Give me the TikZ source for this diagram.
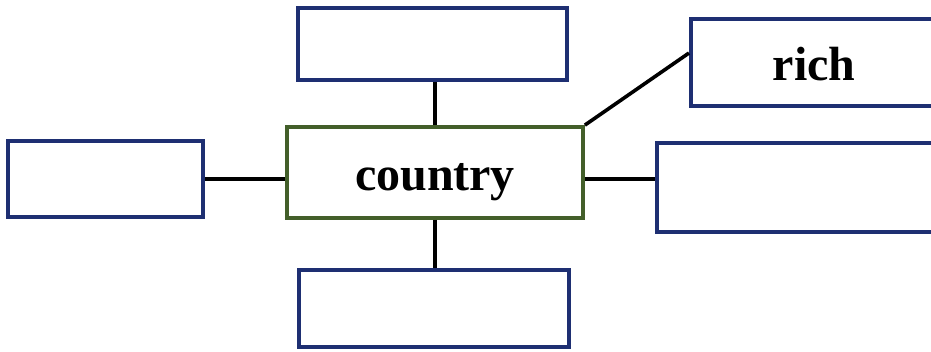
\documentclass[tikz,border=0pt]{standalone}
\usepackage{fontspec}
\setmainfont{Liberation Serif}
\definecolor{boxblue}{HTML}{1E2F72}
\definecolor{boxgreen}{HTML}{435F2A}
\begin{document}
\begin{tikzpicture}[x=1pt,y=-1pt,
  bluebox/.style={draw=boxblue,line width=4pt,rectangle,inner sep=0pt,fill=white},
  greenbox/.style={draw=boxgreen,line width=3.8pt,rectangle,inner sep=0pt,fill=white},
  label/.style={font=\fontsize{48}{52}\selectfont\bfseries,text=black},
  link/.style={draw=black,line width=3.6pt}]
\clip (0,0) rectangle (931,352);
\fill[white] (0,0) rectangle (931,352);
\node[greenbox,minimum width=296pt,minimum height=91pt] (center) at (435,172.5) {};
\node[label] (centertext) at (435,182) {country};
\node[bluebox,minimum width=269pt,minimum height=72pt] (top) at (432.5,44) {};
\node[bluebox,minimum width=246pt,minimum height=87pt] (rich) at (814,62.5) {};
\node[label] (richtext) at (814,64) {rich};
\node[bluebox,minimum width=195pt,minimum height=76pt] (left) at (105.5,179) {};
\node[bluebox,minimum width=280pt,minimum height=89pt] (right) at (797,187.5) {};
\node[bluebox,minimum width=270pt,minimum height=77pt] (bottom) at (434,308.5) {};
\draw[link] (center.north) -- (center.north |- top.south);
\draw[link] (center.south) -- (center.south |- bottom.north);
\draw[link] (center.west |- left.east) -- (left.east);
\draw[link] (center.east |- left.east) -- (right.west |- left.east);
\draw[link] (center.north east) -- ([yshift=9.5pt]rich.west);
\end{tikzpicture}
\end{document}
